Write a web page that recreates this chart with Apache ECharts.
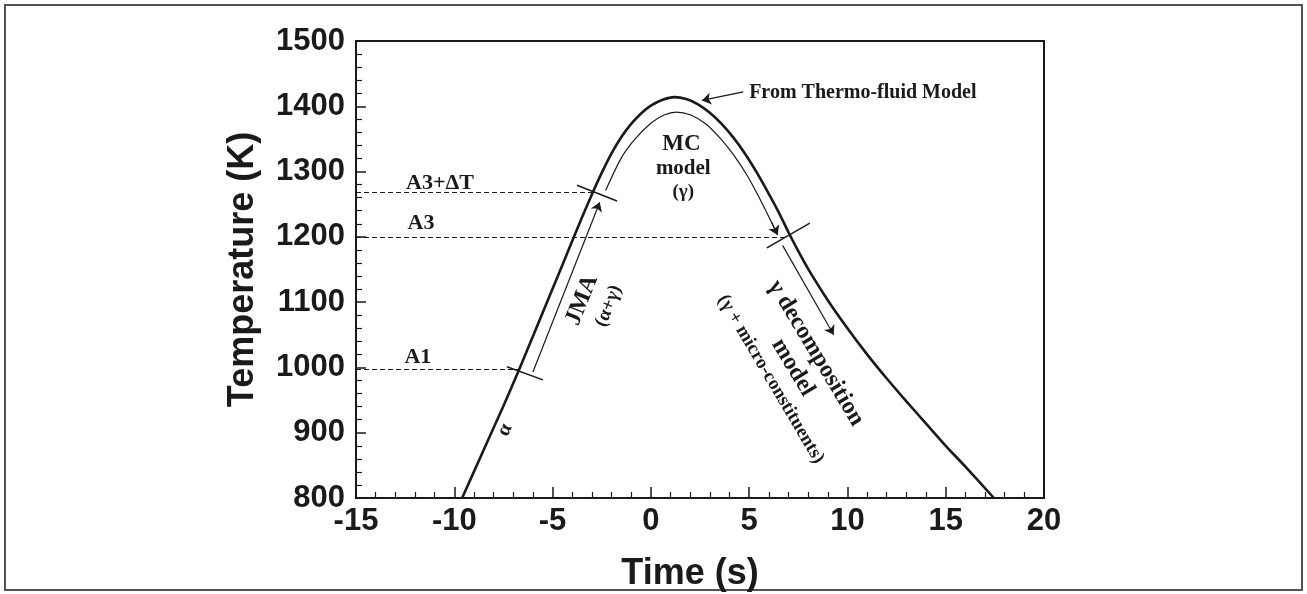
<!DOCTYPE html>
<html><head><meta charset="utf-8">
<script src="https://cdn.jsdelivr.net/npm/echarts@6/dist/echarts.min.js"></script>
<style>html,body{margin:0;padding:0;background:#fff}#c{width:1307px;height:594px}</style>
</head><body><div id="c"></div>
<script>
// ---- data ----
const xTickLabels = [-15, -10, -5, 0, 5, 10, 15, 20];
const yTickLabels = [800, 900, 1000, 1100, 1200, 1300, 1400, 1500];
// thermo-fluid model curve
const timeS = [-9.6, -8.5, -7.5, -6.7, -5.5, -4.5, -3.5, -3.0, -2.5, -2.0, -1.5, -1.0, -0.5, 0, 0.6, 1.2, 1.8, 2.4, 3.0, 3.6, 4.2, 4.8, 5.4, 6.0, 6.5, 7.0, 7.5, 8.0, 9.0, 10.0, 11.0, 12.0, 13.0, 14.0, 15.0, 16.0, 17.45];
const tempK = [800, 874, 941, 997, 1084, 1157, 1230, 1265, 1298, 1328, 1353, 1373, 1389, 1401, 1410, 1414, 1411, 1403, 1390, 1373, 1352, 1327, 1298, 1266, 1238, 1207, 1178, 1151, 1103, 1060, 1020, 983, 948, 914, 880, 848, 800];
// inner MC-model arc
const mcTime = [-2.3, -1.5, -0.8, 0, 0.7, 1.3, 2.0, 2.8, 3.5, 4.2, 4.9, 5.6, 6.45];
const mcTemp = [1271, 1321, 1350, 1374, 1387, 1391, 1387, 1373, 1352, 1326, 1294, 1255, 1203];
// critical temperatures
const levelNames = ['A3+\u0394T', 'A3', 'A1'];
const levelTemps = [1268, 1200, 997];
const levelEndTimes = [-3.0, 6.9, -6.7];
// JMA arrow, decomposition arrow, thermo-fluid pointer
const jmaArrow = [[-6.0, 993], [-2.6, 1253]];
const decompArrow = [[6.7, 1187], [9.3, 1050]];
const thermoArrow = [[4.7, 1422], [2.6, 1409]];
const mcArrowTip = [[6.15, 1222], [6.45, 1203]];
// small crossing ticks on the curve
const crossTicks = [
  [[-7.32, 1001], [-5.49, 981]],
  [[-3.76, 1279], [-1.72, 1255]],
  [[5.9, 1183], [8.09, 1221]]
];

const serif = '"Liberation Serif","Times New Roman",serif';
const sans = '"Liberation Sans",Arial,sans-serif';
const ink = '#1a1a1a';

const chart = echarts.init(document.getElementById('c'));
const curve = timeS.map((t, i) => [t, tempK[i]]);
const mc = mcTime.map((t, i) => [t, mcTemp[i]]);
const dashed = levelTemps.map((T, i) => ({coords: [[-15, T], [levelEndTimes[i], T]]}));

chart.setOption({
  animation: false,
  backgroundColor: '#fff',
  grid: {left: 356, top: 41, right: 263, bottom: 96, show: true, borderColor: ink, borderWidth: 2,
    backgroundColor: 'transparent', containLabel: false, outerBoundsMode: 'none'},
  xAxis: {
    type: 'value', min: -15, max: 20, interval: 5,
    name: 'Time (s)', nameLocation: 'middle', nameGap: 58,
    nameTextStyle: {fontFamily: sans, fontWeight: 'bold', fontSize: 36, color: ink, padding: [0, 20, 0, 0]},
    axisLine: {show: false, onZero: false},
    axisTick: {show: true, inside: true, length: 11, lineStyle: {color: ink, width: 1.5}},
    minorTick: {show: true, splitNumber: 5, length: 6, lineStyle: {color: ink, width: 1.2}},
    splitLine: {show: false},
    axisLabel: {fontFamily: sans, fontWeight: 'bold', fontSize: 31, color: ink, margin: 8,
      formatter: v => xTickLabels.includes(v) ? String(v) : ''}
  },
  yAxis: {
    type: 'value', min: 800, max: 1500, interval: 100,
    name: 'Temperature (K)', nameLocation: 'middle', nameGap: 95, nameRotate: 90,
    nameTextStyle: {fontFamily: sans, fontWeight: 'bold', fontSize: 36, color: ink},
    axisLine: {show: false, onZero: false},
    axisTick: {show: true, inside: true, length: 10, lineStyle: {color: ink, width: 1.5}},
    minorTick: {show: true, splitNumber: 5, length: 6, lineStyle: {color: ink, width: 1.2}},
    splitLine: {show: false},
    axisLabel: {fontFamily: sans, fontWeight: 'bold', fontSize: 31, color: ink, margin: 11,
      formatter: v => yTickLabels.includes(v) ? String(v) : ''}
  },
  series: [
    {type: 'line', data: curve, smooth: 0.3, showSymbol: false, lineStyle: {color: ink, width: 2.6}, z: 5},
    {type: 'line', data: mc, smooth: 0.3, showSymbol: false, lineStyle: {color: ink, width: 1.2}, z: 4},
    {type: 'lines', coordinateSystem: 'cartesian2d', data: dashed, symbol: 'none',
      lineStyle: {color: ink, width: 1.2, type: [5, 3], opacity: 1}},
    {type: 'lines', coordinateSystem: 'cartesian2d', data: crossTicks.map(c => ({coords: c})), symbol: 'none',
      lineStyle: {color: ink, width: 1.5, opacity: 1}},
    {type: 'lines', coordinateSystem: 'cartesian2d',
      data: [jmaArrow, decompArrow, thermoArrow, mcArrowTip].map(c => ({coords: c})),
      symbol: ['none', 'arrow'], symbolSize: [6, 9],
      lineStyle: {color: ink, width: 1.2, opacity: 1}}
  ]
});

// annotations anchored in data coordinates
const notes = [
  {text: levelNames[0], at: [-10.73, 1282], size: 22, rot: 0},
  {text: levelNames[1], at: [-11.69, 1220], size: 22, rot: 0},
  {text: levelNames[2], at: [-11.85, 1016], size: 22, rot: 0},
  {text: '\u03b1', at: [-7.42, 904], size: 20, rot: 65},
  {text: 'JMA', at: [-3.5, 1103], size: 24, rot: 68},
  {text: '(\u03b1+\u03b3)', at: [-2.15, 1094], size: 19, rot: 68},
  {text: 'MC', at: [1.55, 1342], size: 23, rot: 0},
  {text: 'model', at: [1.65, 1304], size: 21, rot: 0},
  {text: '(\u03b3)', at: [1.65, 1269], size: 19, rot: 0},
  {text: '\u03b3 decomposition', at: [8.4, 1022], size: 24, rot: -59},
  {text: 'model', at: [7.23, 1000], size: 24, rot: -59},
  {text: '(\u03b3 + micro-constituents)', at: [6.1, 982], size: 19, rot: -59.5}
];
const graphic = notes.map(n => {
  const p = chart.convertToPixel({gridIndex: 0}, n.at);
  return {type: 'text', x: p[0], y: p[1], rotation: n.rot * Math.PI / 180,
    style: {text: n.text, font: `bold ${n.size}px ${serif}`, fill: ink, align: 'center', verticalAlign: 'middle'}};
});
const fp = chart.convertToPixel({gridIndex: 0}, [5.0, 1421]);
graphic.push({type: 'text', x: fp[0], y: fp[1],
  style: {text: 'From Thermo-fluid Model', font: `bold 20px ${serif}`, fill: ink, align: 'left', verticalAlign: 'middle'}});
graphic.push({type: 'rect', shape: {x: 5, y: 5, width: 1297, height: 585}, style: {fill: 'none', stroke: '#555', lineWidth: 2}, silent: true});
chart.setOption({graphic: graphic});
</script>
</body></html>
